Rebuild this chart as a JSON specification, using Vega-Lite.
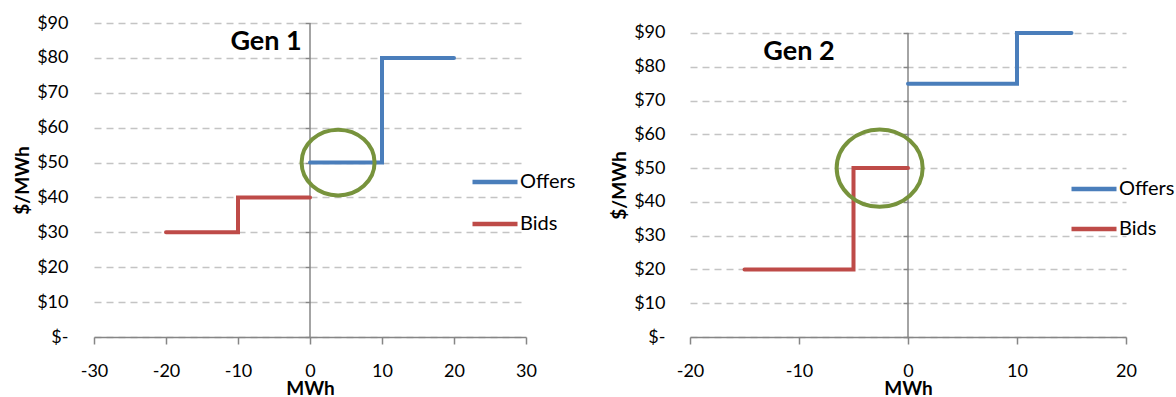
{
  "$schema": "https://vega.github.io/schema/vega-lite/v6.json",
  "padding": {"left": 13, "top": 14, "right": 10, "bottom": 0},
  "bounds": "flush",
  "spacing": 164,
  "datasets": {
    "gen1": [
      {"series": "Offers", "mwh": 0, "price": 50},
      {"series": "Offers", "mwh": 10, "price": 80},
      {"series": "Offers", "mwh": 20, "price": 80},
      {"series": "Bids", "mwh": -20, "price": 30},
      {"series": "Bids", "mwh": -10, "price": 40},
      {"series": "Bids", "mwh": 0, "price": 40}
    ],
    "gen2": [
      {"series": "Offers", "mwh": 0, "price": 75},
      {"series": "Offers", "mwh": 10, "price": 90},
      {"series": "Offers", "mwh": 15, "price": 90},
      {"series": "Bids", "mwh": -15, "price": 20},
      {"series": "Bids", "mwh": -5, "price": 50},
      {"series": "Bids", "mwh": 0, "price": 50}
    ]
  },
  "hconcat": [
    {
      "width": 432,
      "height": 314,
      "layer": [
        {
          "data": {"values": [{}]},
          "mark": {"type": "rule", "color": "#868686", "strokeWidth": 1.5},
          "encoding": {
            "x": {"datum": 0, "type": "quantitative", "scale": {"domain": [-30, 30], "nice": false}},
            "y": {"datum": 0, "type": "quantitative", "scale": {"domain": [0, 90], "nice": false}},
            "y2": {"datum": 90}
          }
        },
        {
          "data": {"name": "gen1"},
          "mark": {"type": "line", "interpolate": "step-after", "strokeWidth": 4, "strokeCap": "round"},
          "encoding": {
            "x": {
              "field": "mwh", "type": "quantitative",
              "scale": {"domain": [-30, 30], "nice": false},
              "axis": {"title": "MWh", "values": [-30, -20, -10, 0, 10, 20, 30]}
            },
            "y": {
              "field": "price", "type": "quantitative",
              "scale": {"domain": [0, 90], "nice": false},
              "axis": {"title": "$/MWh", "offset": -216, "labelPadding": 237, "titleX": -282, "titleY": 157}
            },
            "color": {
              "field": "series", "type": "nominal",
              "scale": {"domain": ["Offers", "Bids"], "range": ["#4A7EBB", "#BE4B48"]},
              "legend": {"orient": "none", "legendX": 376, "legendY": 134, "rowPadding": 7}
            }
          }
        },
        {
          "data": {"values": [{}]},
          "mark": {"type": "point", "shape": "M 1 0 C 1 0.497 0.552 0.9 0 0.9 C -0.552 0.9 -1 0.497 -1 0 C -1 -0.497 -0.552 -0.9 0 -0.9 C 0.552 -0.9 1 -0.497 1 0 Z", "size": 5329, "filled": false, "stroke": "#77933C", "strokeWidth": 4, "opacity": 1},
          "encoding": {
            "x": {"datum": 3.9, "type": "quantitative"},
            "y": {"datum": 50, "type": "quantitative"}
          }
        },
        {
          "data": {"values": [{}]},
          "mark": {"type": "text", "text": "Gen 1", "font": "Lato", "fontSize": 27, "fontWeight": "bold", "align": "center", "baseline": "alphabetic", "color": "#000"},
          "encoding": {
            "x": {"datum": -6.1, "type": "quantitative"},
            "y": {"datum": 82.3, "type": "quantitative"}
          }
        }
      ]
    },
    {
      "width": 436,
      "height": 314,
      "layer": [
        {
          "data": {"values": [{}]},
          "mark": {"type": "rule", "color": "#868686", "strokeWidth": 1.5},
          "encoding": {
            "x": {"datum": 0, "type": "quantitative", "scale": {"domain": [-20, 20], "nice": false}},
            "y": {"datum": 0, "type": "quantitative", "scale": {"domain": [0, 92.96], "nice": false}},
            "y2": {"datum": 90}
          }
        },
        {
          "data": {"name": "gen2"},
          "mark": {"type": "line", "interpolate": "step-after", "strokeWidth": 4, "strokeCap": "round"},
          "encoding": {
            "x": {
              "field": "mwh", "type": "quantitative",
              "scale": {"domain": [-20, 20], "nice": false},
              "axis": {"title": "MWh", "values": [-20, -10, 0, 10, 20]}
            },
            "y": {
              "field": "price", "type": "quantitative",
              "scale": {"domain": [0, 92.96], "nice": false},
              "axis": {"title": "$/MWh", "offset": -218, "labelPadding": 238, "titleX": -283, "titleY": 162}
            },
            "color": {
              "field": "series", "type": "nominal",
              "scale": {"domain": ["Offers", "Bids"], "range": ["#4A7EBB", "#BE4B48"]},
              "legend": {"orient": "none", "legendX": 379, "legendY": 141, "rowPadding": 5}
            }
          }
        },
        {
          "data": {"values": [{}]},
          "mark": {"type": "point", "shape": "M 1 0 C 1 0.497 0.552 0.9 0 0.9 C -0.552 0.9 -1 0.497 -1 0 C -1 -0.497 -0.552 -0.9 0 -0.9 C 0.552 -0.9 1 -0.497 1 0 Z", "size": 7396, "filled": false, "stroke": "#77933C", "strokeWidth": 4, "opacity": 1},
          "encoding": {
            "x": {"datum": -2.6, "type": "quantitative"},
            "y": {"datum": 50, "type": "quantitative"}
          }
        },
        {
          "data": {"values": [{}]},
          "mark": {"type": "text", "text": "Gen 2", "font": "Lato", "fontSize": 27, "fontWeight": "bold", "align": "center", "baseline": "alphabetic", "color": "#000"},
          "encoding": {
            "x": {"datum": -10, "type": "quantitative"},
            "y": {"datum": 82, "type": "quantitative"}
          }
        }
      ]
    }
  ],
  "resolve": {"scale": {"color": "independent"}},
  "config": {
    "font": "Lato",
    "view": {"stroke": null},
    "axis": {
      "labelFont": "Lato", "labelFontSize": 18, "labelColor": "#000", "labelFlush": false, "labelOverlap": false,
      "titleFont": "Lato", "titleFontSize": 19, "titleFontWeight": "bold", "titleColor": "#000",
      "domainColor": "#868686", "domainWidth": 1.5, "tickColor": "#868686", "tickWidth": 1.5,
      "gridColor": "#C4C4C4", "gridWidth": 1.5, "gridDash": [7, 5]
    },
    "axisX": {
      "labelExpr": "datum.value < 0 ? '-' + abs(datum.value) : '' + datum.value",
      "grid": false, "tickSize": 7, "labelPadding": 18,
      "titleY": 57, "titleBaseline": "alphabetic"
    },
    "axisY": {
      "values": [0, 10, 20, 30, 40, 50, 60, 70, 80, 90],
      "labelExpr": "datum.value === 0 ? '$-' : '$' + datum.value",
      "domain": false, "ticks": true, "tickSize": 5, "grid": true,
      "titleBaseline": "alphabetic", "titleAlign": "center", "titleAngle": -90
    },
    "legend": {
      "labelFont": "Lato", "labelColor": "#000", "labelFontSize": 20, "labelOffset": 0,
      "title": null, "symbolType": "stroke", "symbolSize": 2025, "symbolStrokeWidth": 4.5
    }
  }
}
